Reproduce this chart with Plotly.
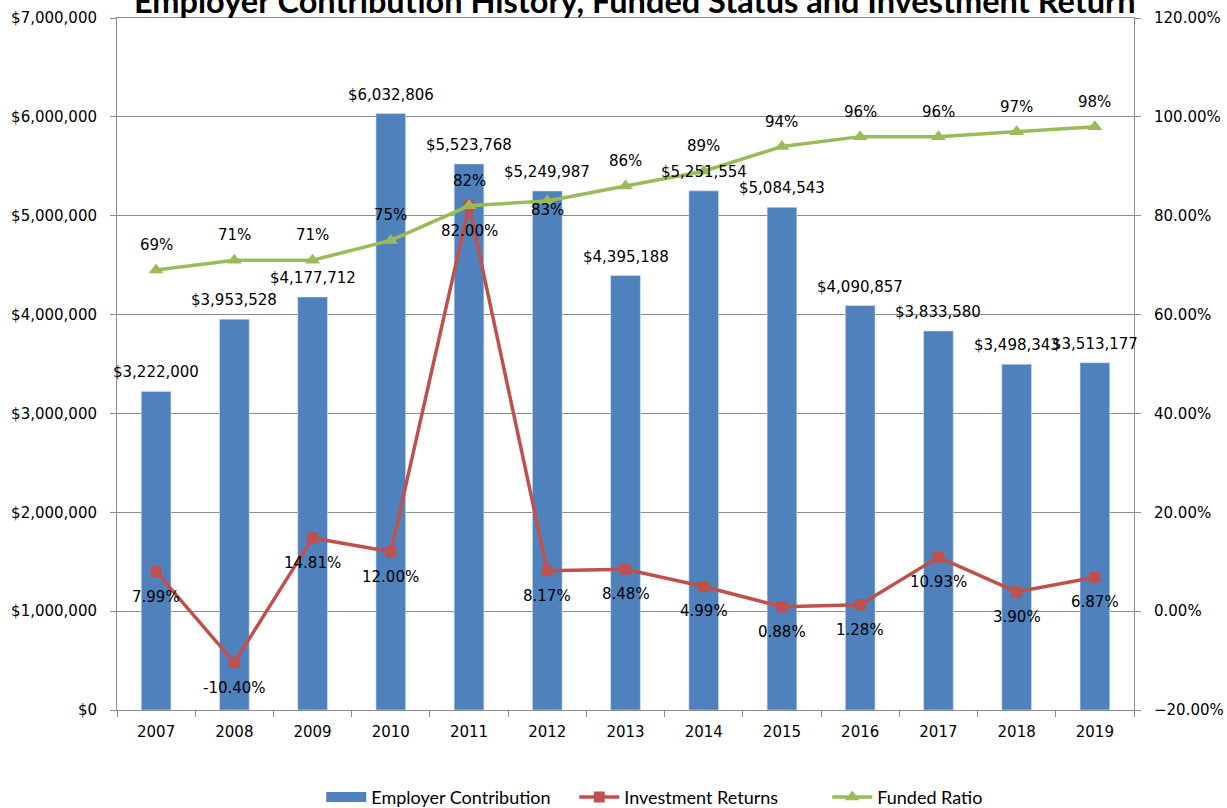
import plotly.graph_objects as go

years = ["2007", "2008", "2009", "2010", "2011", "2012", "2013",
         "2014", "2015", "2016", "2017", "2018", "2019"]
employer_contribution = [3222000, 3953528, 4177712, 6032806, 5523768, 5249987,
                         4395188, 5251554, 5084543, 4090857, 3833580, 3498343, 3513177]
investment_returns = [7.99, -10.40, 14.81, 12.00, 82.00, 8.17, 8.48,
                      4.99, 0.88, 1.28, 10.93, 3.90, 6.87]
funded_ratio = [69, 71, 71, 75, 82, 83, 86, 89, 94, 96, 96, 97, 98]

BLUE = "#4F81BD"
RED = "#C0504D"
GREEN = "#9BBB59"
GRID = "#8C8C8C"
TICK_FONT = dict(family="DejaVu Sans", size=15, color="#000000")

# vertical offsets (px) of the funded-ratio labels; 2012 sits below to clear the bar label
funded_label_shift = {"2012": -9}

fig = go.Figure()

fig.add_trace(go.Bar(
    x=years, y=employer_contribution, name="Employer Contribution",
    marker=dict(color=BLUE, line=dict(width=0.6, color="#D6E0EE")),
    yaxis="y", showlegend=False, legendgroup="ec",
))
# wide rectangular legend key for the bars
fig.add_trace(go.Scatter(
    x=[None], y=[None], name="Employer Contribution", mode="lines",
    line=dict(color=BLUE, width=10), legendgroup="ec", yaxis="y",
))

fig.add_trace(go.Scatter(
    x=years, y=investment_returns, name="Investment Returns",
    mode="lines+markers",
    line=dict(color=RED, width=3.5),
    marker=dict(symbol="square", size=11, color=RED),
    yaxis="y2",
))

fig.add_trace(go.Scatter(
    x=years, y=funded_ratio, name="Funded Ratio",
    mode="lines+markers",
    line=dict(color=GREEN, width=3.5),
    marker=dict(symbol="triangle-up", size=13, color=GREEN),
    yaxis="y2",
))

# Value labels (category index used as x position on the category axis)
annotations = []
for i, v in enumerate(employer_contribution):
    annotations.append(dict(x=i, y=v, xref="x", yref="y", text=f"${v:,.0f}",
                            yshift=19, showarrow=False, font=TICK_FONT,
                            xanchor="center", yanchor="middle"))
for i, v in enumerate(investment_returns):
    annotations.append(dict(x=i, y=v, xref="x", yref="y2", text=f"{v:.2f}%",
                            yshift=-25, showarrow=False, font=TICK_FONT,
                            xanchor="center", yanchor="middle"))
for i, (yr, v) in enumerate(zip(years, funded_ratio)):
    annotations.append(dict(x=i, y=v, xref="x", yref="y2", text=f"{v}%",
                            yshift=funded_label_shift.get(yr, 25), showarrow=False,
                            font=TICK_FONT, xanchor="center", yanchor="middle"))

annotations.append(dict(
    text="<b>Employer Contribution History, Funded Status and Investment Return</b>",
    xref="paper", yref="paper", x=0.509, y=1.026,
    xanchor="center", yanchor="middle", showarrow=False,
    font=dict(family="Lato", size=32.5, color="#000000"),
))

fig.update_layout(
    width=1227, height=808,
    margin=dict(l=117, r=93, t=18, b=98, autoexpand=False),
    paper_bgcolor="white", plot_bgcolor="white",
    bargap=0.62,
    showlegend=True,
    legend=dict(orientation="h", x=0.574, xanchor="center", y=-0.126, yanchor="middle",
                font=dict(family="Lato", size=18, color="#000000"),
                traceorder="normal", itemwidth=40, entrywidth=198),
    xaxis=dict(type="category", range=[-0.5, 12.5],
               showline=True, linecolor=GRID, linewidth=1,
               ticks="outside", tickson="boundaries", ticklen=6, tickcolor=GRID,
               ticklabelstandoff=8,
               tickfont=TICK_FONT, mirror=True, showgrid=False),
    yaxis=dict(range=[0, 7000000], dtick=1000000, tickformat="$,.0f",
               showline=True, linecolor=GRID, linewidth=1,
               ticks="outside", ticklen=6, tickcolor=GRID,
               ticklabelstandoff=10,
               showgrid=True, gridcolor=GRID, gridwidth=1,
               tickfont=TICK_FONT, zeroline=False),
    yaxis2=dict(range=[-20, 120], dtick=20, tickformat=".2f", ticksuffix="%",
                overlaying="y", side="right",
                showline=True, linecolor=GRID, linewidth=1,
                ticks="outside", ticklen=6, tickcolor=GRID,
                ticklabelstandoff=10,
                showgrid=False, zeroline=False, tickfont=TICK_FONT),
    annotations=annotations,
)

fig.write_html("out.html")
